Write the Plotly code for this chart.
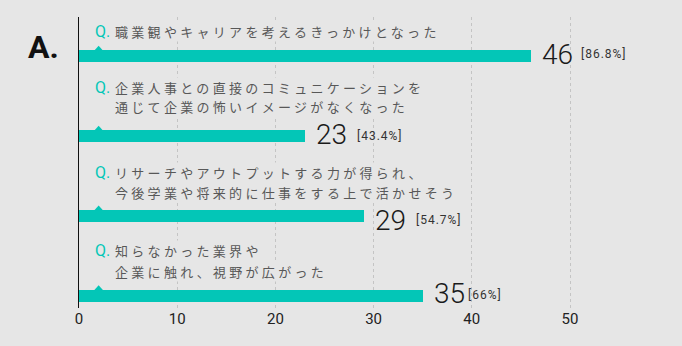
import plotly.graph_objects as go

# ---- data ----
questions = [
    "職業観やキャリアを考えるきっかけとなった",
    "企業人事との直接のコミュニケーションを<br>通じて企業の怖いイメージがなくなった",
    "リサーチやアウトプットする力が得られ、<br>今後学業や将来的に仕事をする上で活かせそう",
    "知らなかった業界や<br>企業に触れ、視野が広がった",
]
counts = [46, 23, 29, 35]
percents = ["[86.8%]", "[43.4%]", "[54.7%]", "[66%]"]
tick_vals = [0, 10, 20, 30, 40, 50]
tick_text = ["0", "10", "20", "30", "40", "50"]

# ---- style ----
BG = "#e6e6e6"
TEAL = "#03c6b7"
TXT = "#585858"
NUM_FONT = "Roboto, sans-serif"
JP_FONT = "Noto Sans CJK JP, sans-serif"

W, H = 682, 346
ML, MR, MT, MB = 79, 24, 17, 38
px_per_unit = 9.82
x_max = (W - ML - MR) / px_per_unit

rows = list(range(len(questions)))
line_shift = [[24.8], [48.7, 29.2], [43.5, 24.0], [44.9, 23.9]]  # px above bar centre
num_yshift = [1.8, 1.2, -4.0, 2.4]
pct_yshift = [1.8, -0.3, -4.0, 0.9]
pct_shift = [49, 51, 51, 44]

fig = go.Figure()
fig.add_trace(go.Bar(
    x=counts, y=rows, orientation="h",
    marker=dict(color=TEAL, line=dict(width=0)),
    width=0.152, hoverinfo="skip",
))

annotations = []
shapes = []
for i, (q, c, p) in enumerate(zip(questions, counts, percents)):
    lines = q.split("<br>")
    annotations.append(dict(
        x=0, y=i, xref="x", yref="y", xanchor="left", yanchor="middle",
        xshift=15, yshift=line_shift[i][0], showarrow=False,
        text="Q.", font=dict(family=NUM_FONT, size=16, color=TEAL),
        borderpad=0,
    ))
    for k, line in enumerate(lines):
        annotations.append(dict(
            x=0, y=i, xref="x", yref="y", xanchor="left", yanchor="middle",
            xshift=35, yshift=line_shift[i][k], showarrow=False, align="left",
            text=f"<span style='letter-spacing:3.3px'>{line}</span>",
            font=dict(family=JP_FONT, size=13, color=TXT),
            bgcolor=BG, borderpad=0,
        ))
    annotations.append(dict(
        x=c, y=i, xref="x", yref="y", xanchor="left", yanchor="middle",
        xshift=10, yshift=num_yshift[i], showarrow=False,
        text=str(c), font=dict(family=NUM_FONT, size=28, color="#1a1a1a", weight=300),
        borderpad=0,
    ))
    annotations.append(dict(
        x=c, y=i, xref="x", yref="y", xanchor="left", yanchor="middle",
        xshift=pct_shift[i], yshift=pct_yshift[i], showarrow=False,
        text=f"<span style='letter-spacing:1px'>{p}</span>",
        font=dict(family=NUM_FONT, size=12, color="#333333"),
        borderpad=0,
    ))
    shapes.append(dict(
        type="path", xref="x", yref="y",
        xsizemode="pixel", ysizemode="pixel", xanchor=2, yanchor=i,
        path="M -4.5,5.5 L 0,10.5 L 4.5,5.5 Z",
        fillcolor=TEAL, line=dict(width=0), layer="above",
    ))

annotations.append(dict(
    x=-(ML - 26) / (W - ML - MR), y=1 - (47.5 - MT) / (H - MT - MB),
    xref="paper", yref="paper", xanchor="left", yanchor="middle",
    showarrow=False, text="<b>A.</b>",
    font=dict(family=NUM_FONT, size=32, color="#111111"),
))

fig.update_layout(
    width=W, height=H,
    margin=dict(l=ML, r=MR, t=MT, b=MB),
    paper_bgcolor=BG, plot_bgcolor=BG,
    showlegend=False,
    annotations=annotations, shapes=shapes,
    xaxis=dict(
        range=[0, x_max], tickmode="array", tickvals=tick_vals, ticktext=tick_text,
        showgrid=True, gridcolor="#c4c4c4", griddash="dot", gridwidth=1,
        zeroline=False, showline=False, ticks="",
        tickfont=dict(family=NUM_FONT, size=15, color="#222222"),
        fixedrange=True,
    ),
    yaxis=dict(
        range=[3.152, -0.492], showticklabels=False, showgrid=False,
        zeroline=False, showline=True, linecolor="#111111", linewidth=1,
        ticks="", fixedrange=True,
    ),
    bargap=0,
)

fig.write_html("out.html")
